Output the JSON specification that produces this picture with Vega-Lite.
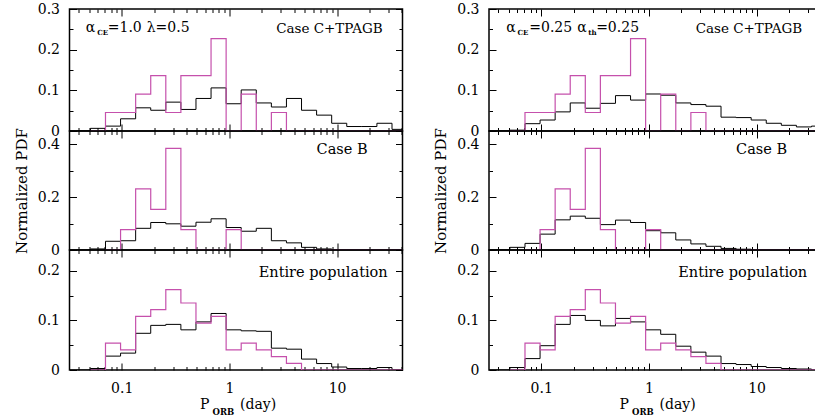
{
"$schema": "https://vega.github.io/schema/vega-lite/v6.json",
"padding": {"left": 12.5, "top": 1, "right": 0, "bottom": 0},
"config": {
  "font": "DejaVu Serif",
  "view": {"stroke": "black", "strokeWidth": 1.5},
  "axis": {"grid": false, "domain": false, "tickColor": "black", "tickWidth": 1, "labelFont": "DejaVu Serif", "labelFontSize": 14, "labelColor": "black", "labelFlush": false, "labelOverlap": false, "titleFont": "DejaVu Serif", "titleFontSize": 15, "titleFontWeight": "normal", "titleColor": "black"}
},
"datasets": {
"h": [
{"c":"C","s":"m1","p":0.02692,"v":0},{"c":"C","s":"m1","p":0.03715,"v":0},{"c":"C","s":"m1","p":0.05129,"v":0.0065},{"c":"C","s":"m1","p":0.07079,"v":0.012},{"c":"C","s":"m1","p":0.09772,"v":0.03},{"c":"C","s":"m1","p":0.1349,"v":0.057},{"c":"C","s":"m1","p":0.1862,"v":0.051},{"c":"C","s":"m1","p":0.257,"v":0.071},{"c":"C","s":"m1","p":0.3548,"v":0.053},{"c":"C","s":"m1","p":0.4898,"v":0.08},{"c":"C","s":"m1","p":0.6761,"v":0.106},{"c":"C","s":"m1","p":0.9333,"v":0.067},{"c":"C","s":"m1","p":1.288,"v":0.101},{"c":"C","s":"m1","p":1.778,"v":0.069},{"c":"C","s":"m1","p":2.455,"v":0.059},{"c":"C","s":"m1","p":3.388,"v":0.08},{"c":"C","s":"m1","p":4.677,"v":0.051},{"c":"C","s":"m1","p":6.457,"v":0.039},{"c":"C","s":"m1","p":8.913,"v":0.019},{"c":"C","s":"m1","p":12.3,"v":0.011},{"c":"C","s":"m1","p":16.98,"v":0.011},{"c":"C","s":"m1","p":23.44,"v":0.019},{"c":"C","s":"m1","p":32.36,"v":0.004},{"c":"C","s":"m1","p":44.67,"v":0},
{"c":"B","s":"m1","p":0.02692,"v":0},{"c":"B","s":"m1","p":0.03715,"v":0},{"c":"B","s":"m1","p":0.05129,"v":0.004},{"c":"B","s":"m1","p":0.07079,"v":0.033},{"c":"B","s":"m1","p":0.09772,"v":0.035},{"c":"B","s":"m1","p":0.1349,"v":0.082},{"c":"B","s":"m1","p":0.1862,"v":0.104},{"c":"B","s":"m1","p":0.257,"v":0.099},{"c":"B","s":"m1","p":0.3548,"v":0.09},{"c":"B","s":"m1","p":0.4898,"v":0.105},{"c":"B","s":"m1","p":0.6761,"v":0.118},{"c":"B","s":"m1","p":0.9333,"v":0.085},{"c":"B","s":"m1","p":1.288,"v":0.071},{"c":"B","s":"m1","p":1.778,"v":0.082},{"c":"B","s":"m1","p":2.455,"v":0.035},{"c":"B","s":"m1","p":3.388,"v":0.027},{"c":"B","s":"m1","p":4.677,"v":0.01},{"c":"B","s":"m1","p":6.457,"v":0.004},{"c":"B","s":"m1","p":8.913,"v":0},{"c":"B","s":"m1","p":12.3,"v":0},{"c":"B","s":"m1","p":16.98,"v":0},{"c":"B","s":"m1","p":23.44,"v":0},{"c":"B","s":"m1","p":32.36,"v":0},{"c":"B","s":"m1","p":44.67,"v":0},
{"c":"E","s":"m1","p":0.02692,"v":0},{"c":"E","s":"m1","p":0.03715,"v":0},{"c":"E","s":"m1","p":0.05129,"v":0.003},{"c":"E","s":"m1","p":0.07079,"v":0.028},{"c":"E","s":"m1","p":0.09772,"v":0.034},{"c":"E","s":"m1","p":0.1349,"v":0.074},{"c":"E","s":"m1","p":0.1862,"v":0.09},{"c":"E","s":"m1","p":0.257,"v":0.092},{"c":"E","s":"m1","p":0.3548,"v":0.081},{"c":"E","s":"m1","p":0.4898,"v":0.097},{"c":"E","s":"m1","p":0.6761,"v":0.114},{"c":"E","s":"m1","p":0.9333,"v":0.081},{"c":"E","s":"m1","p":1.288,"v":0.079},{"c":"E","s":"m1","p":1.778,"v":0.078},{"c":"E","s":"m1","p":2.455,"v":0.044},{"c":"E","s":"m1","p":3.388,"v":0.042},{"c":"E","s":"m1","p":4.677,"v":0.022},{"c":"E","s":"m1","p":6.457,"v":0.013},{"c":"E","s":"m1","p":8.913,"v":0.006},{"c":"E","s":"m1","p":12.3,"v":0.003},{"c":"E","s":"m1","p":16.98,"v":0.003},{"c":"E","s":"m1","p":23.44,"v":0.005},{"c":"E","s":"m1","p":32.36,"v":0},{"c":"E","s":"m1","p":44.67,"v":0},
{"c":"C","s":"m2","p":0.02692,"v":0},{"c":"C","s":"m2","p":0.03715,"v":0},{"c":"C","s":"m2","p":0.05129,"v":0.002},{"c":"C","s":"m2","p":0.07079,"v":0.018},{"c":"C","s":"m2","p":0.09772,"v":0.027},{"c":"C","s":"m2","p":0.1349,"v":0.047},{"c":"C","s":"m2","p":0.1862,"v":0.069},{"c":"C","s":"m2","p":0.257,"v":0.056},{"c":"C","s":"m2","p":0.3548,"v":0.068},{"c":"C","s":"m2","p":0.4898,"v":0.087},{"c":"C","s":"m2","p":0.6761,"v":0.076},{"c":"C","s":"m2","p":0.9333,"v":0.091},{"c":"C","s":"m2","p":1.288,"v":0.088},{"c":"C","s":"m2","p":1.778,"v":0.069},{"c":"C","s":"m2","p":2.455,"v":0.065},{"c":"C","s":"m2","p":3.388,"v":0.061},{"c":"C","s":"m2","p":4.677,"v":0.034},{"c":"C","s":"m2","p":6.457,"v":0.033},{"c":"C","s":"m2","p":8.913,"v":0.027},{"c":"C","s":"m2","p":12.3,"v":0.019},{"c":"C","s":"m2","p":16.98,"v":0.014},{"c":"C","s":"m2","p":23.44,"v":0.01},{"c":"C","s":"m2","p":32.36,"v":0.012},{"c":"C","s":"m2","p":44.67,"v":0},
{"c":"B","s":"m2","p":0.02692,"v":0},{"c":"B","s":"m2","p":0.03715,"v":0},{"c":"B","s":"m2","p":0.05129,"v":0.01},{"c":"B","s":"m2","p":0.07079,"v":0.025},{"c":"B","s":"m2","p":0.09772,"v":0.06},{"c":"B","s":"m2","p":0.1349,"v":0.114},{"c":"B","s":"m2","p":0.1862,"v":0.128},{"c":"B","s":"m2","p":0.257,"v":0.12},{"c":"B","s":"m2","p":0.3548,"v":0.096},{"c":"B","s":"m2","p":0.4898,"v":0.113},{"c":"B","s":"m2","p":0.6761,"v":0.104},{"c":"B","s":"m2","p":0.9333,"v":0.073},{"c":"B","s":"m2","p":1.288,"v":0.065},{"c":"B","s":"m2","p":1.778,"v":0.038},{"c":"B","s":"m2","p":2.455,"v":0.023},{"c":"B","s":"m2","p":3.388,"v":0.014},{"c":"B","s":"m2","p":4.677,"v":0.006},{"c":"B","s":"m2","p":6.457,"v":0.003},{"c":"B","s":"m2","p":8.913,"v":0},{"c":"B","s":"m2","p":12.3,"v":0},{"c":"B","s":"m2","p":16.98,"v":0},{"c":"B","s":"m2","p":23.44,"v":0},{"c":"B","s":"m2","p":32.36,"v":0},{"c":"B","s":"m2","p":44.67,"v":0},
{"c":"E","s":"m2","p":0.02692,"v":0},{"c":"E","s":"m2","p":0.03715,"v":0},{"c":"E","s":"m2","p":0.05129,"v":0.005},{"c":"E","s":"m2","p":0.07079,"v":0.023},{"c":"E","s":"m2","p":0.09772,"v":0.049},{"c":"E","s":"m2","p":0.1349,"v":0.092},{"c":"E","s":"m2","p":0.1862,"v":0.11},{"c":"E","s":"m2","p":0.257,"v":0.1},{"c":"E","s":"m2","p":0.3548,"v":0.089},{"c":"E","s":"m2","p":0.4898,"v":0.104},{"c":"E","s":"m2","p":0.6761,"v":0.097},{"c":"E","s":"m2","p":0.9333,"v":0.081},{"c":"E","s":"m2","p":1.288,"v":0.072},{"c":"E","s":"m2","p":1.778,"v":0.048},{"c":"E","s":"m2","p":2.455,"v":0.036},{"c":"E","s":"m2","p":3.388,"v":0.028},{"c":"E","s":"m2","p":4.677,"v":0.013},{"c":"E","s":"m2","p":6.457,"v":0.011},{"c":"E","s":"m2","p":8.913,"v":0.007},{"c":"E","s":"m2","p":12.3,"v":0.005},{"c":"E","s":"m2","p":16.98,"v":0.003},{"c":"E","s":"m2","p":23.44,"v":0.002},{"c":"E","s":"m2","p":32.36,"v":0},{"c":"E","s":"m2","p":44.67,"v":0},
{"c":"C","s":"obs","p":0.05129,"v":0},{"c":"C","s":"obs","p":0.07079,"v":0.0455},{"c":"C","s":"obs","p":0.09772,"v":0.0455},{"c":"C","s":"obs","p":0.1349,"v":0.0909},{"c":"C","s":"obs","p":0.1862,"v":0.1364},{"c":"C","s":"obs","p":0.257,"v":0.0455},{"c":"C","s":"obs","p":0.3548,"v":0.1364},{"c":"C","s":"obs","p":0.4898,"v":0.1364},{"c":"C","s":"obs","p":0.6761,"v":0.2273},{"c":"C","s":"obs","p":0.9333,"v":0},{"c":"C","s":"obs","p":1.288,"v":0.0909},{"c":"C","s":"obs","p":1.778,"v":0},{"c":"C","s":"obs","p":2.455,"v":0.0455},{"c":"C","s":"obs","p":3.388,"v":0},{"c":"C","s":"obs","p":4.677,"v":0},{"c":"C","s":"obs","p":6.457,"v":0},{"c":"C","s":"obs","p":8.913,"v":0},{"c":"C","s":"obs","p":12.3,"v":0},{"c":"C","s":"obs","p":16.98,"v":0},{"c":"C","s":"obs","p":23.44,"v":0},{"c":"C","s":"obs","p":32.36,"v":0},{"c":"C","s":"obs","p":44.67,"v":0},
{"c":"B","s":"obs","p":0.07079,"v":0},{"c":"B","s":"obs","p":0.09772,"v":0.0769},{"c":"B","s":"obs","p":0.1349,"v":0.2308},{"c":"B","s":"obs","p":0.1862,"v":0.1538},{"c":"B","s":"obs","p":0.257,"v":0.3846},{"c":"B","s":"obs","p":0.3548,"v":0.0769},{"c":"B","s":"obs","p":0.4898,"v":0},{"c":"B","s":"obs","p":0.6761,"v":0},{"c":"B","s":"obs","p":0.9333,"v":0.0769},{"c":"B","s":"obs","p":1.288,"v":0},{"c":"B","s":"obs","p":1.778,"v":0},{"c":"B","s":"obs","p":2.455,"v":0},{"c":"B","s":"obs","p":3.388,"v":0},{"c":"B","s":"obs","p":4.677,"v":0},{"c":"B","s":"obs","p":6.457,"v":0},{"c":"B","s":"obs","p":8.913,"v":0},{"c":"B","s":"obs","p":12.3,"v":0},{"c":"B","s":"obs","p":16.98,"v":0},{"c":"B","s":"obs","p":23.44,"v":0},{"c":"B","s":"obs","p":32.36,"v":0},{"c":"B","s":"obs","p":44.67,"v":0},
{"c":"E","s":"obs","p":0.05129,"v":0},{"c":"E","s":"obs","p":0.07079,"v":0.0541},{"c":"E","s":"obs","p":0.09772,"v":0.0405},{"c":"E","s":"obs","p":0.1349,"v":0.1081},{"c":"E","s":"obs","p":0.1862,"v":0.1216},{"c":"E","s":"obs","p":0.257,"v":0.1622},{"c":"E","s":"obs","p":0.3548,"v":0.1351},{"c":"E","s":"obs","p":0.4898,"v":0.0946},{"c":"E","s":"obs","p":0.6761,"v":0.1081},{"c":"E","s":"obs","p":0.9333,"v":0.0405},{"c":"E","s":"obs","p":1.288,"v":0.0541},{"c":"E","s":"obs","p":1.778,"v":0.0405},{"c":"E","s":"obs","p":2.455,"v":0.027},{"c":"E","s":"obs","p":3.388,"v":0.0135},{"c":"E","s":"obs","p":4.677,"v":0},{"c":"E","s":"obs","p":6.457,"v":0},{"c":"E","s":"obs","p":8.913,"v":0},{"c":"E","s":"obs","p":12.3,"v":0},{"c":"E","s":"obs","p":16.98,"v":0},{"c":"E","s":"obs","p":23.44,"v":0},{"c":"E","s":"obs","p":32.36,"v":0},{"c":"E","s":"obs","p":44.67,"v":0}
],
"ann": [
{"c":"C","col":"*","k":"lab","t":"Case C+TPAGB","p":26.5,"v":0.252},
{"c":"B","col":"*","k":"lab","t":"Case B","p":19.2,"v":0.377},
{"c":"E","col":"*","k":"lab","t":"Entire population","p":29.5,"v":0.195},
{"c":"C","col":"A","k":"main","t":"α","p":0.0465,"v":0.253},
{"c":"C","col":"A","k":"sub","t":"CE","p":0.0594,"v":0.241},
{"c":"C","col":"A","k":"main","t":"=1.0","p":0.0743,"v":0.253},
{"c":"C","col":"A","k":"main","t":"λ=0.5","p":0.171,"v":0.253},
{"c":"C","col":"B","k":"main","t":"α","p":0.0474,"v":0.253},
{"c":"C","col":"B","k":"sub","t":"CE","p":0.0603,"v":0.241},
{"c":"C","col":"B","k":"main","t":"=0.25","p":0.0776,"v":0.253},
{"c":"C","col":"B","k":"main","t":"α","p":0.216,"v":0.253},
{"c":"C","col":"B","k":"sub","t":"th","p":0.2735,"v":0.241},
{"c":"C","col":"B","k":"main","t":"=0.25","p":0.324,"v":0.253}
]
},
"spacing": 27.5,
"hconcat": [
{"bounds": "flush", "spacing": 0, "vconcat": [
 {"width": 333, "height": 122, "resolve": {"axis": {"x": "independent", "y": "independent"}}, "layer": [
  {"data": {"name": "h"}, "transform": [{"filter": "datum.c=='C' && datum.s=='m1'"}],
   "mark": {"type": "line", "interpolate": "step-after", "color": "black", "strokeWidth": 1, "clip": true},
   "encoding": {
    "x": {"field": "p", "type": "quantitative", "scale": {"type": "log", "domain": [0.0328, 40.5]}, "axis": {"orient": "bottom", "values": [0.04,0.05,0.06,0.07,0.08,0.09,0.1,0.2,0.3,0.4,0.5,0.6,0.7,0.8,0.9,1,2,3,4,5,6,7,8,9,10,20,30,40], "labels": false, "title": null, "tickSize": {"condition": {"test": "datum.value==0.1||datum.value==1||datum.value==10", "value": -7}, "value": -3.5}}},
    "y": {"field": "v", "type": "quantitative", "scale": {"domain": [0, 0.3]}, "axis": {"orient": "left", "values": [0,0.05,0.1,0.15,0.2,0.25,0.3], "format": "~g", "labelExpr": "abs(datum.value*10-round(datum.value*10))<1e-6 ? datum.label : ''", "labelPadding": 17, "title": null, "tickSize": {"condition": {"test": "abs(datum.value*10-round(datum.value*10))<1e-6", "value": -7}, "value": -3.5}}}
   }},
  {"data": {"name": "h"}, "transform": [{"filter": "datum.c=='C' && datum.s=='obs'"}],
   "mark": {"type": "line", "interpolate": "step-after", "color": "#c550ac", "strokeWidth": 1.2, "clip": true},
   "encoding": {
    "x": {"field": "p", "type": "quantitative", "scale": {"type": "log", "domain": [0.0328, 40.5]}, "axis": {"orient": "top", "values": [0.04,0.05,0.06,0.07,0.08,0.09,0.1,0.2,0.3,0.4,0.5,0.6,0.7,0.8,0.9,1,2,3,4,5,6,7,8,9,10,20,30,40], "labels": false, "title": null, "tickSize": {"condition": {"test": "datum.value==0.1||datum.value==1||datum.value==10", "value": -7}, "value": -3.5}}},
    "y": {"field": "v", "type": "quantitative", "scale": {"domain": [0, 0.3]}, "axis": {"orient": "right", "values": [0,0.05,0.1,0.15,0.2,0.25,0.3], "labels": false, "title": null, "tickSize": {"condition": {"test": "abs(datum.value*10-round(datum.value*10))<1e-6", "value": -7}, "value": -3.5}}}
   }},
  {"data": {"name": "ann"}, "transform": [{"filter": "datum.c=='C' && datum.k=='lab'"}],
   "mark": {"type": "text", "align": "right", "baseline": "middle", "fontSize": 13.5, "color": "black"},
   "encoding": {"x": {"field": "p", "type": "quantitative", "scale": {"type": "log", "domain": [0.0328, 40.5]}, "axis": null}, "y": {"field": "v", "type": "quantitative", "scale": {"domain": [0, 0.3]}, "axis": null}, "text": {"field": "t"}}},
  {"data": {"name": "ann"}, "transform": [{"filter": "datum.col=='A' && datum.k=='main'"}],
   "mark": {"type": "text", "align": "left", "baseline": "middle", "fontSize": 14, "color": "black"},
   "encoding": {"x": {"field": "p", "type": "quantitative", "scale": {"type": "log", "domain": [0.0328, 40.5]}, "axis": null}, "y": {"field": "v", "type": "quantitative", "scale": {"domain": [0, 0.3]}, "axis": null}, "text": {"field": "t"}}},
  {"data": {"name": "ann"}, "transform": [{"filter": "datum.col=='A' && datum.k=='sub'"}],
   "mark": {"type": "text", "align": "left", "baseline": "middle", "fontSize": 7, "fontWeight": "bold", "color": "black"},
   "encoding": {"x": {"field": "p", "type": "quantitative", "scale": {"type": "log", "domain": [0.0328, 40.5]}, "axis": null}, "y": {"field": "v", "type": "quantitative", "scale": {"domain": [0, 0.3]}, "axis": null}, "text": {"field": "t"}}}
 ]},
 {"width": 333, "height": 119, "resolve": {"axis": {"x": "independent", "y": "independent"}}, "layer": [
  {"data": {"name": "h"}, "transform": [{"filter": "datum.c=='B' && datum.s=='m1'"}],
   "mark": {"type": "line", "interpolate": "step-after", "color": "black", "strokeWidth": 1, "clip": true},
   "encoding": {
    "x": {"field": "p", "type": "quantitative", "scale": {"type": "log", "domain": [0.0328, 40.5]}, "axis": {"orient": "bottom", "values": [0.04,0.05,0.06,0.07,0.08,0.09,0.1,0.2,0.3,0.4,0.5,0.6,0.7,0.8,0.9,1,2,3,4,5,6,7,8,9,10,20,30,40], "labels": false, "title": null, "tickSize": {"condition": {"test": "datum.value==0.1||datum.value==1||datum.value==10", "value": -7}, "value": -3.5}}},
    "y": {"field": "v", "type": "quantitative", "scale": {"domain": [0, 0.45]}, "axis": {"orient": "left", "values": [0,0.1,0.2,0.3,0.4], "format": "~g", "labelExpr": "abs(datum.value*5-round(datum.value*5))<1e-6 ? datum.label : ''", "labelPadding": 17, "title": "Normalized PDF", "titlePadding": 8, "tickSize": {"condition": {"test": "abs(datum.value*5-round(datum.value*5))<1e-6", "value": -7}, "value": -3.5}}}
   }},
  {"data": {"name": "h"}, "transform": [{"filter": "datum.c=='B' && datum.s=='obs'"}],
   "mark": {"type": "line", "interpolate": "step-after", "color": "#c550ac", "strokeWidth": 1.2, "clip": true},
   "encoding": {
    "x": {"field": "p", "type": "quantitative", "scale": {"type": "log", "domain": [0.0328, 40.5]}, "axis": {"orient": "top", "values": [0.04,0.05,0.06,0.07,0.08,0.09,0.1,0.2,0.3,0.4,0.5,0.6,0.7,0.8,0.9,1,2,3,4,5,6,7,8,9,10,20,30,40], "labels": false, "title": null, "tickSize": {"condition": {"test": "datum.value==0.1||datum.value==1||datum.value==10", "value": -7}, "value": -3.5}}},
    "y": {"field": "v", "type": "quantitative", "scale": {"domain": [0, 0.45]}, "axis": {"orient": "right", "values": [0,0.1,0.2,0.3,0.4], "labels": false, "title": null, "tickSize": {"condition": {"test": "abs(datum.value*5-round(datum.value*5))<1e-6", "value": -7}, "value": -3.5}}}
   }},
  {"data": {"name": "ann"}, "transform": [{"filter": "datum.c=='B' && datum.k=='lab'"}],
   "mark": {"type": "text", "align": "right", "baseline": "middle", "fontSize": 14.5, "color": "black"},
   "encoding": {"x": {"field": "p", "type": "quantitative", "scale": {"type": "log", "domain": [0.0328, 40.5]}, "axis": null}, "y": {"field": "v", "type": "quantitative", "scale": {"domain": [0, 0.45]}, "axis": null}, "text": {"field": "t"}}}
 ]},
 {"width": 333, "height": 120, "resolve": {"axis": {"x": "independent", "y": "independent"}}, "layer": [
  {"data": {"name": "h"}, "transform": [{"filter": "datum.c=='E' && datum.s=='m1'"}],
   "mark": {"type": "line", "interpolate": "step-after", "color": "black", "strokeWidth": 1, "clip": true},
   "encoding": {
    "x": {"field": "p", "type": "quantitative", "scale": {"type": "log", "domain": [0.0328, 40.5]}, "axis": {"orient": "bottom", "values": [0.04,0.05,0.06,0.07,0.08,0.09,0.1,0.2,0.3,0.4,0.5,0.6,0.7,0.8,0.9,1,2,3,4,5,6,7,8,9,10,20,30,40], "format": "~g", "labelExpr": "(datum.value==0.1||datum.value==1||datum.value==10) ? datum.label : ''", "labelPadding": 18, "title": "P", "titleX": 130, "titleY": 38, "titleAlign": "left", "titleBaseline": "alphabetic", "titleFontSize": 14, "tickSize": {"condition": {"test": "datum.value==0.1||datum.value==1||datum.value==10", "value": -7}, "value": -3.5}}},
    "y": {"field": "v", "type": "quantitative", "scale": {"domain": [0, 0.242]}, "axis": {"orient": "left", "values": [0,0.05,0.1,0.15,0.2], "format": "~g", "labelExpr": "abs(datum.value*10-round(datum.value*10))<1e-6 ? datum.label : ''", "labelPadding": 17, "title": null, "tickSize": {"condition": {"test": "abs(datum.value*10-round(datum.value*10))<1e-6", "value": -7}, "value": -3.5}}}
   }},
  {"data": {"name": "h"}, "transform": [{"filter": "datum.c=='E' && datum.s=='obs'"}],
   "mark": {"type": "line", "interpolate": "step-after", "color": "#c550ac", "strokeWidth": 1.2, "clip": true},
   "encoding": {
    "x": {"field": "p", "type": "quantitative", "scale": {"type": "log", "domain": [0.0328, 40.5]}, "axis": {"orient": "top", "values": [0.04,0.05,0.06,0.07,0.08,0.09,0.1,0.2,0.3,0.4,0.5,0.6,0.7,0.8,0.9,1,2,3,4,5,6,7,8,9,10,20,30,40], "labels": false, "title": null, "tickSize": {"condition": {"test": "datum.value==0.1||datum.value==1||datum.value==10", "value": -7}, "value": -3.5}}},
    "y": {"field": "v", "type": "quantitative", "scale": {"domain": [0, 0.242]}, "axis": {"orient": "right", "values": [0,0.05,0.1,0.15,0.2], "labels": false, "title": null, "tickSize": {"condition": {"test": "abs(datum.value*10-round(datum.value*10))<1e-6", "value": -7}, "value": -3.5}}}
   }},
  {"data": {"name": "ann"}, "transform": [{"filter": "datum.c=='E' && datum.k=='lab'"}],
   "mark": {"type": "text", "align": "right", "baseline": "middle", "fontSize": 14.5, "color": "black"},
   "encoding": {"x": {"field": "p", "type": "quantitative", "scale": {"type": "log", "domain": [0.0328, 40.5]}, "axis": {"orient": "bottom", "ticks": false, "labels": false, "title": "ORB", "titleX": 142.6, "titleY": 44, "titleAlign": "left", "titleBaseline": "alphabetic", "titleFontSize": 8.5, "titleFontWeight": "bold"}}, "y": {"field": "v", "type": "quantitative", "scale": {"domain": [0, 0.242]}, "axis": null}, "text": {"field": "t"}}},
  {"data": {"name": "ann"}, "transform": [{"filter": "false"}],
   "mark": {"type": "text"},
   "encoding": {"x": {"field": "p", "type": "quantitative", "scale": {"type": "log", "domain": [0.0328, 40.5]}, "axis": {"orient": "bottom", "ticks": false, "labels": false, "title": "(day)", "titleX": 170, "titleY": 38, "titleAlign": "left", "titleBaseline": "alphabetic", "titleFontSize": 14}}, "y": {"field": "v", "type": "quantitative", "scale": {"domain": [0, 0.242]}, "axis": null}, "text": {"field": "t"}}}
 ]}
]},
{"bounds": "flush", "spacing": 0, "vconcat": [
 {"width": 333, "height": 122, "resolve": {"axis": {"x": "independent", "y": "independent"}}, "layer": [
  {"data": {"name": "h"}, "transform": [{"filter": "datum.c=='C' && datum.s=='m2'"}],
   "mark": {"type": "line", "interpolate": "step-after", "color": "black", "strokeWidth": 1, "clip": true},
   "encoding": {
    "x": {"field": "p", "type": "quantitative", "scale": {"type": "log", "domain": [0.0328, 40.5]}, "axis": {"orient": "bottom", "values": [0.04,0.05,0.06,0.07,0.08,0.09,0.1,0.2,0.3,0.4,0.5,0.6,0.7,0.8,0.9,1,2,3,4,5,6,7,8,9,10,20,30,40], "labels": false, "title": null, "tickSize": {"condition": {"test": "datum.value==0.1||datum.value==1||datum.value==10", "value": -7}, "value": -3.5}}},
    "y": {"field": "v", "type": "quantitative", "scale": {"domain": [0, 0.3]}, "axis": {"orient": "left", "values": [0,0.05,0.1,0.15,0.2,0.25,0.3], "format": "~g", "labelExpr": "abs(datum.value*10-round(datum.value*10))<1e-6 ? datum.label : ''", "labelPadding": 17, "title": null, "tickSize": {"condition": {"test": "abs(datum.value*10-round(datum.value*10))<1e-6", "value": -7}, "value": -3.5}}}
   }},
  {"data": {"name": "h"}, "transform": [{"filter": "datum.c=='C' && datum.s=='obs'"}],
   "mark": {"type": "line", "interpolate": "step-after", "color": "#c550ac", "strokeWidth": 1.2, "clip": true},
   "encoding": {
    "x": {"field": "p", "type": "quantitative", "scale": {"type": "log", "domain": [0.0328, 40.5]}, "axis": {"orient": "top", "values": [0.04,0.05,0.06,0.07,0.08,0.09,0.1,0.2,0.3,0.4,0.5,0.6,0.7,0.8,0.9,1,2,3,4,5,6,7,8,9,10,20,30,40], "labels": false, "title": null, "tickSize": {"condition": {"test": "datum.value==0.1||datum.value==1||datum.value==10", "value": -7}, "value": -3.5}}},
    "y": {"field": "v", "type": "quantitative", "scale": {"domain": [0, 0.3]}, "axis": {"orient": "right", "values": [0,0.05,0.1,0.15,0.2,0.25,0.3], "labels": false, "title": null, "tickSize": {"condition": {"test": "abs(datum.value*10-round(datum.value*10))<1e-6", "value": -7}, "value": -3.5}}}
   }},
  {"data": {"name": "ann"}, "transform": [{"filter": "datum.c=='C' && datum.k=='lab'"}],
   "mark": {"type": "text", "align": "right", "baseline": "middle", "fontSize": 13.5, "color": "black"},
   "encoding": {"x": {"field": "p", "type": "quantitative", "scale": {"type": "log", "domain": [0.0328, 40.5]}, "axis": null}, "y": {"field": "v", "type": "quantitative", "scale": {"domain": [0, 0.3]}, "axis": null}, "text": {"field": "t"}}},
  {"data": {"name": "ann"}, "transform": [{"filter": "datum.col=='B' && datum.k=='main'"}],
   "mark": {"type": "text", "align": "left", "baseline": "middle", "fontSize": 14, "color": "black"},
   "encoding": {"x": {"field": "p", "type": "quantitative", "scale": {"type": "log", "domain": [0.0328, 40.5]}, "axis": null}, "y": {"field": "v", "type": "quantitative", "scale": {"domain": [0, 0.3]}, "axis": null}, "text": {"field": "t"}}},
  {"data": {"name": "ann"}, "transform": [{"filter": "datum.col=='B' && datum.k=='sub'"}],
   "mark": {"type": "text", "align": "left", "baseline": "middle", "fontSize": 7, "fontWeight": "bold", "color": "black"},
   "encoding": {"x": {"field": "p", "type": "quantitative", "scale": {"type": "log", "domain": [0.0328, 40.5]}, "axis": null}, "y": {"field": "v", "type": "quantitative", "scale": {"domain": [0, 0.3]}, "axis": null}, "text": {"field": "t"}}}
 ]},
 {"width": 333, "height": 119, "resolve": {"axis": {"x": "independent", "y": "independent"}}, "layer": [
  {"data": {"name": "h"}, "transform": [{"filter": "datum.c=='B' && datum.s=='m2'"}],
   "mark": {"type": "line", "interpolate": "step-after", "color": "black", "strokeWidth": 1, "clip": true},
   "encoding": {
    "x": {"field": "p", "type": "quantitative", "scale": {"type": "log", "domain": [0.0328, 40.5]}, "axis": {"orient": "bottom", "values": [0.04,0.05,0.06,0.07,0.08,0.09,0.1,0.2,0.3,0.4,0.5,0.6,0.7,0.8,0.9,1,2,3,4,5,6,7,8,9,10,20,30,40], "labels": false, "title": null, "tickSize": {"condition": {"test": "datum.value==0.1||datum.value==1||datum.value==10", "value": -7}, "value": -3.5}}},
    "y": {"field": "v", "type": "quantitative", "scale": {"domain": [0, 0.45]}, "axis": {"orient": "left", "values": [0,0.1,0.2,0.3,0.4], "format": "~g", "labelExpr": "abs(datum.value*5-round(datum.value*5))<1e-6 ? datum.label : ''", "labelPadding": 17, "title": "Normalized PDF", "titlePadding": 8, "tickSize": {"condition": {"test": "abs(datum.value*5-round(datum.value*5))<1e-6", "value": -7}, "value": -3.5}}}
   }},
  {"data": {"name": "h"}, "transform": [{"filter": "datum.c=='B' && datum.s=='obs'"}],
   "mark": {"type": "line", "interpolate": "step-after", "color": "#c550ac", "strokeWidth": 1.2, "clip": true},
   "encoding": {
    "x": {"field": "p", "type": "quantitative", "scale": {"type": "log", "domain": [0.0328, 40.5]}, "axis": {"orient": "top", "values": [0.04,0.05,0.06,0.07,0.08,0.09,0.1,0.2,0.3,0.4,0.5,0.6,0.7,0.8,0.9,1,2,3,4,5,6,7,8,9,10,20,30,40], "labels": false, "title": null, "tickSize": {"condition": {"test": "datum.value==0.1||datum.value==1||datum.value==10", "value": -7}, "value": -3.5}}},
    "y": {"field": "v", "type": "quantitative", "scale": {"domain": [0, 0.45]}, "axis": {"orient": "right", "values": [0,0.1,0.2,0.3,0.4], "labels": false, "title": null, "tickSize": {"condition": {"test": "abs(datum.value*5-round(datum.value*5))<1e-6", "value": -7}, "value": -3.5}}}
   }},
  {"data": {"name": "ann"}, "transform": [{"filter": "datum.c=='B' && datum.k=='lab'"}],
   "mark": {"type": "text", "align": "right", "baseline": "middle", "fontSize": 14.5, "color": "black"},
   "encoding": {"x": {"field": "p", "type": "quantitative", "scale": {"type": "log", "domain": [0.0328, 40.5]}, "axis": null}, "y": {"field": "v", "type": "quantitative", "scale": {"domain": [0, 0.45]}, "axis": null}, "text": {"field": "t"}}}
 ]},
 {"width": 333, "height": 120, "resolve": {"axis": {"x": "independent", "y": "independent"}}, "layer": [
  {"data": {"name": "h"}, "transform": [{"filter": "datum.c=='E' && datum.s=='m2'"}],
   "mark": {"type": "line", "interpolate": "step-after", "color": "black", "strokeWidth": 1, "clip": true},
   "encoding": {
    "x": {"field": "p", "type": "quantitative", "scale": {"type": "log", "domain": [0.0328, 40.5]}, "axis": {"orient": "bottom", "values": [0.04,0.05,0.06,0.07,0.08,0.09,0.1,0.2,0.3,0.4,0.5,0.6,0.7,0.8,0.9,1,2,3,4,5,6,7,8,9,10,20,30,40], "format": "~g", "labelExpr": "(datum.value==0.1||datum.value==1||datum.value==10) ? datum.label : ''", "labelPadding": 18, "title": "P", "titleX": 130, "titleY": 38, "titleAlign": "left", "titleBaseline": "alphabetic", "titleFontSize": 14, "tickSize": {"condition": {"test": "datum.value==0.1||datum.value==1||datum.value==10", "value": -7}, "value": -3.5}}},
    "y": {"field": "v", "type": "quantitative", "scale": {"domain": [0, 0.242]}, "axis": {"orient": "left", "values": [0,0.05,0.1,0.15,0.2], "format": "~g", "labelExpr": "abs(datum.value*10-round(datum.value*10))<1e-6 ? datum.label : ''", "labelPadding": 17, "title": null, "tickSize": {"condition": {"test": "abs(datum.value*10-round(datum.value*10))<1e-6", "value": -7}, "value": -3.5}}}
   }},
  {"data": {"name": "h"}, "transform": [{"filter": "datum.c=='E' && datum.s=='obs'"}],
   "mark": {"type": "line", "interpolate": "step-after", "color": "#c550ac", "strokeWidth": 1.2, "clip": true},
   "encoding": {
    "x": {"field": "p", "type": "quantitative", "scale": {"type": "log", "domain": [0.0328, 40.5]}, "axis": {"orient": "top", "values": [0.04,0.05,0.06,0.07,0.08,0.09,0.1,0.2,0.3,0.4,0.5,0.6,0.7,0.8,0.9,1,2,3,4,5,6,7,8,9,10,20,30,40], "labels": false, "title": null, "tickSize": {"condition": {"test": "datum.value==0.1||datum.value==1||datum.value==10", "value": -7}, "value": -3.5}}},
    "y": {"field": "v", "type": "quantitative", "scale": {"domain": [0, 0.242]}, "axis": {"orient": "right", "values": [0,0.05,0.1,0.15,0.2], "labels": false, "title": null, "tickSize": {"condition": {"test": "abs(datum.value*10-round(datum.value*10))<1e-6", "value": -7}, "value": -3.5}}}
   }},
  {"data": {"name": "ann"}, "transform": [{"filter": "datum.c=='E' && datum.k=='lab'"}],
   "mark": {"type": "text", "align": "right", "baseline": "middle", "fontSize": 14.5, "color": "black"},
   "encoding": {"x": {"field": "p", "type": "quantitative", "scale": {"type": "log", "domain": [0.0328, 40.5]}, "axis": {"orient": "bottom", "ticks": false, "labels": false, "title": "ORB", "titleX": 142.6, "titleY": 44, "titleAlign": "left", "titleBaseline": "alphabetic", "titleFontSize": 8.5, "titleFontWeight": "bold"}}, "y": {"field": "v", "type": "quantitative", "scale": {"domain": [0, 0.242]}, "axis": null}, "text": {"field": "t"}}},
  {"data": {"name": "ann"}, "transform": [{"filter": "false"}],
   "mark": {"type": "text"},
   "encoding": {"x": {"field": "p", "type": "quantitative", "scale": {"type": "log", "domain": [0.0328, 40.5]}, "axis": {"orient": "bottom", "ticks": false, "labels": false, "title": "(day)", "titleX": 170, "titleY": 38, "titleAlign": "left", "titleBaseline": "alphabetic", "titleFontSize": 14}}, "y": {"field": "v", "type": "quantitative", "scale": {"domain": [0, 0.242]}, "axis": null}, "text": {"field": "t"}}}
 ]}
]}
]
}
